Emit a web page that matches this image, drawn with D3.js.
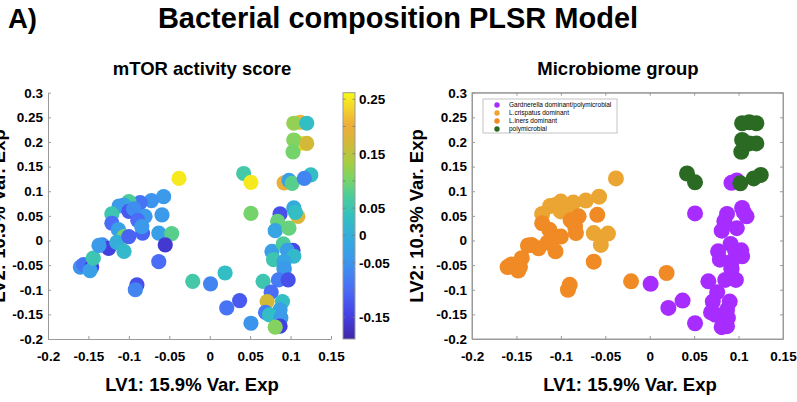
<!DOCTYPE html>
<html>
<head>
<meta charset="utf-8">
<script src="https://cdn.jsdelivr.net/npm/d3@7"></script>
<style>
body { margin: 0; background: #fff; }
text { font-family: "Liberation Sans", Arial, Helvetica, sans-serif; }
</style>
</head>
<body>
<svg id="chart" width="797" height="402"></svg>
<script>
// scores on LV1 / LV2, mTOR activity score and microbiome group (0..3) per sample
var lv1 = [
  0.051, 0.001, 0.021, 0.037, 0.051, 0.092, 0.098, 0.104, 0.109, 0.106, 0.087, 0.084,
  0.081, 0.098, 0.077, 0.091, 0.103, 0.096, 0.104, 0.079, 0.092, 0.092, 0.092, 0.085,
  0.097, 0.066, 0.076, 0.071, 0.090, 0.069, 0.087, 0.074, 0.088, 0.087, 0.081,
  -0.038, -0.057, -0.072, -0.086, -0.100, -0.106, -0.112, -0.121, -0.100, -0.094, -0.063, -0.047, -0.055,
  -0.160, -0.156, -0.146, -0.148, -0.144, -0.133, -0.125, -0.121, -0.113, -0.106, -0.115, -0.100,
  -0.106, -0.137, -0.080, -0.089, -0.083, -0.084, -0.059, -0.063, -0.090, -0.092, -0.021, 0.019,
  0.042, 0.051, 0.112, 0.104, 0.120, 0.112, 0.104, 0.120, 0.103, 0.102, 0.125, 0.117
];
var lv2 = [
  0.055, -0.088, -0.137, -0.122, -0.168, 0.117, 0.122, 0.066, 0.049, 0.057, 0.054, 0.039,
  0.020, 0.025, -0.022, -0.007, -0.020, -0.020, -0.032, -0.039, -0.043, -0.056, -0.059, -0.080,
  -0.080, -0.083, -0.105, -0.124, -0.124, -0.146, -0.141, -0.151, -0.157, -0.174, -0.176,
  0.126, 0.089, 0.081, 0.077, 0.079, 0.072, 0.070, 0.054, 0.059, 0.064, 0.015, 0.014, -0.009,
  -0.054, -0.049, -0.054, -0.061, -0.036, -0.009, -0.016, 0.035, 0.022, 0.008, -0.004, 0.008,
  -0.022, -0.010, 0.049, 0.041, 0.015, 0.028, 0.052, -0.043, -0.090, -0.100, -0.083, -0.066,
  0.136, 0.118, 0.240, 0.238, 0.238, 0.197, 0.204, 0.197, 0.180, 0.116, 0.133, 0.126
];
var mtor = [
  0.10, -0.07, -0.09, -0.12, -0.05, 0.20, -0.03, -0.01, 0.18, 0.03, -0.13, 0.09,
  -0.02, 0.09, -0.03, 0.07, -0.14, -0.03, 0.02, 0.05, -0.02, -0.03, -0.04, -0.08,
  -0.13, 0.05, -0.10, 0.17, 0.03, -0.08, -0.03, 0.03, -0.04, -0.15, 0.11,
  0.25, -0.04, -0.05, -0.09, 0.07, -0.02, -0.04, 0.05, -0.12, -0.06, -0.03, 0.08, -0.16,
  -0.05, -0.09, -0.15, -0.03, 0.05, -0.07, -0.15, -0.10, -0.03, 0.10, 0.00, -0.11,
  0.02, -0.04, -0.04, -0.10, -0.11, -0.04, -0.04, -0.10, -0.13, -0.07, 0.06, 0.03,
  0.06, 0.25, 0.21, 0.12, 0.03, 0.24, 0.11, 0.17, 0.10, 0.08, 0.03, -0.07
];
var group = [
  0, 0, 0, 0, 0, 0, 0, 0, 0, 0, 0, 0, 0, 0, 0, 0, 0, 0, 0, 0, 0, 0, 0, 0, 0, 0, 0, 0, 0, 0, 0, 0, 0, 0, 0,
  1, 1, 1, 1, 1, 1, 1, 1, 1, 1, 1, 1, 1,
  2, 2, 2, 2, 2, 2, 2, 2, 2, 2, 2, 2, 2, 2, 2, 2, 2, 2, 2, 2, 2, 2, 2, 2,
  3, 3, 3, 3, 3, 3, 3, 3, 3, 3, 3, 3
];

var groupNames = ["Gardnerella dominant/polymicrobial", "L.crispatus dominant", "L.iners dominant", "polymicrobial"];
var groupColors = ["#a62cff", "#eaa532", "#f08a24", "#2b6a22"];

var xTicks = [-0.2, -0.15, -0.1, -0.05, 0, 0.05, 0.1, 0.15];
var yTicks = [-0.2, -0.15, -0.1, -0.05, 0, 0.05, 0.1, 0.15, 0.2, 0.25, 0.3];
var cbLabels = [-0.15, -0.05, 0, 0.05, 0.15, 0.25];
var cbMarks = [-0.15, -0.1, -0.05, 0, 0.05, 0.1, 0.15, 0.2, 0.25];

// parula-like colormap anchors
var cmapT = [0, 0.10, 0.20, 0.30, 0.40, 0.50, 0.58, 0.65, 0.72, 0.80, 0.87, 0.93, 1];
var cmapC = ["#3e26a8", "#4543e6", "#4a6cf6", "#3e92ef", "#35aadf", "#33c0c0", "#4ccc9a",
             "#7bd466", "#a9cc40", "#d4b838", "#eeae3a", "#f3cf2c", "#f8fa15"];
var cbMin = -0.19, cbMax = 0.262;

var svg = d3.select("#chart");
var axisGray = "#9a9a9a";
var data = lv1.map(function(d, i) {
  return { x: d, y: lv2[i], m: mtor[i], g: group[i] };
});

var color = d3.scaleLinear()
  .domain(cmapT.map(function(t) { return cbMin + t * (cbMax - cbMin); }))
  .range(cmapC)
  .clamp(true);

var plotTop = 92.7, plotBottom = 339;
var y = d3.scaleLinear().domain([-0.2, 0.3]).range([plotBottom, plotTop]);
var xL = d3.scaleLinear().domain([-0.2, 0.15]).range([48, 331]);
var xR = d3.scaleLinear().domain([-0.2, 0.15]).range([472, 783]);

function fmt(d) { return String(d); }

function styleAxis(g) {
  g.select(".domain").attr("stroke", axisGray);
  g.selectAll(".tick line").attr("stroke", axisGray);
  g.selectAll("text")
    .attr("font-family", '"Liberation Sans", Arial, sans-serif')
    .attr("font-weight", "bold")
    .attr("font-size", 13.5)
    .attr("fill", "#000");
}

function drawAxes(x) {
  svg.append("g")
    .attr("transform", "translate(0," + plotBottom + ")")
    .call(d3.axisBottom(x).tickValues(xTicks).tickFormat(fmt).tickSizeInner(-3).tickSizeOuter(0).tickPadding(12))
    .call(styleAxis);
  svg.append("g")
    .attr("transform", "translate(" + x.range()[0] + ",0)")
    .call(d3.axisLeft(y).tickValues(yTicks).tickFormat(fmt).tickSizeInner(-3).tickSizeOuter(0).tickPadding(5))
    .call(styleAxis);
}

// ---- left panel: mTOR activity score
drawAxes(xL);
svg.append("g").selectAll("circle")
  .data(data)
  .enter().append("circle")
  .attr("cx", function(d) { return xL(d.x); })
  .attr("cy", function(d) { return y(d.y); })
  .attr("r", 7.6)
  .attr("fill", function(d) { return color(d.m); });

// colorbar
var cbY = d3.scaleLinear().domain([cbMin, cbMax]).range([plotBottom, plotTop]);
var grad = svg.append("defs").append("linearGradient")
  .attr("id", "cbgrad").attr("x1", 0).attr("y1", 1).attr("x2", 0).attr("y2", 0);
grad.selectAll("stop")
  .data(cmapT)
  .enter().append("stop")
  .attr("offset", function(t) { return t; })
  .attr("stop-color", function(t, i) { return cmapC[i]; });
svg.append("rect")
  .attr("x", 343).attr("y", plotTop)
  .attr("width", 12).attr("height", plotBottom - plotTop)
  .attr("fill", "url(#cbgrad)")
  .attr("stroke", axisGray).attr("stroke-width", 1);
svg.append("g").selectAll("line")
  .data(cbMarks.concat(cbMarks))
  .enter().append("line")
  .attr("x1", function(d, i) { return i < cbMarks.length ? 343 : 355; })
  .attr("x2", function(d, i) { return i < cbMarks.length ? 345.5 : 352.5; })
  .attr("y1", function(d) { return cbY(d); })
  .attr("y2", function(d) { return cbY(d); })
  .attr("stroke", "#777").attr("stroke-width", 0.8);
svg.append("g").selectAll("text")
  .data(cbLabels)
  .enter().append("text")
  .attr("x", 359)
  .attr("y", function(d) { return cbY(d); })
  .attr("dy", "0.36em")
  .attr("font-weight", "bold")
  .attr("font-size", 13.5)
  .text(fmt);

// ---- right panel: microbiome group
svg.append("rect")
  .attr("x", xR.range()[0]).attr("y", plotTop)
  .attr("width", xR.range()[1] - xR.range()[0]).attr("height", plotBottom - plotTop)
  .attr("fill", "none").attr("stroke", axisGray);
drawAxes(xR);
svg.append("g")
  .attr("transform", "translate(0," + plotTop + ")")
  .call(d3.axisTop(xR).tickValues(xTicks).tickFormat("").tickSizeInner(-3).tickSizeOuter(0))
  .call(styleAxis);
svg.append("g")
  .attr("transform", "translate(" + xR.range()[1] + ",0)")
  .call(d3.axisRight(y).tickValues(yTicks).tickFormat("").tickSizeInner(-3).tickSizeOuter(0))
  .call(styleAxis);

svg.append("g").selectAll("circle")
  .data(data)
  .enter().append("circle")
  .attr("cx", function(d) { return xR(d.x); })
  .attr("cy", function(d) { return y(d.y); })
  .attr("r", 8)
  .attr("fill", function(d) { return groupColors[d.g]; });

// legend
var legend = svg.append("g");
legend.append("rect")
  .attr("x", 483).attr("y", 99).attr("width", 134).attr("height", 34)
  .attr("fill", "#fff").attr("stroke", "#b5b5b5").attr("stroke-width", 0.8);
var items = legend.selectAll(".item")
  .data(groupNames)
  .enter().append("g")
  .attr("transform", function(d, i) { return "translate(497," + (105 + i * 8) + ")"; });
items.append("circle").attr("r", 2.7).attr("fill", function(d, i) { return groupColors[i]; });
items.append("text")
  .attr("x", 12).attr("dy", "0.35em")
  .attr("font-size", 6.5)
  .text(function(d) { return d; });

// ---- titles and axis labels
function label(x, yy, str, size, anchor, rot) {
  svg.append("text")
    .attr("transform", "translate(" + x + "," + yy + ")" + (rot ? " rotate(-90)" : ""))
    .attr("text-anchor", anchor || "middle")
    .attr("font-weight", "bold")
    .attr("font-size", size)
    .text(str);
}
label(8, 28, "A)", 27.5, "start");
label(398, 28, "Bacterial composition PLSR Model", 29);
label(202, 75, "mTOR activity score", 18.5);
label(618, 75, "Microbiome group", 18.5);
label(192, 391, "LV1: 15.9% Var. Exp", 18.5);
label(630, 391, "LV1: 15.9% Var. Exp", 18.5);
label(423, 216, "LV2: 10.3% Var. Exp", 18.5, "middle", true);
label(5, 216, "LV2: 10.3% Var. Exp", 18.5, "middle", true);
</script>
</body>
</html>
